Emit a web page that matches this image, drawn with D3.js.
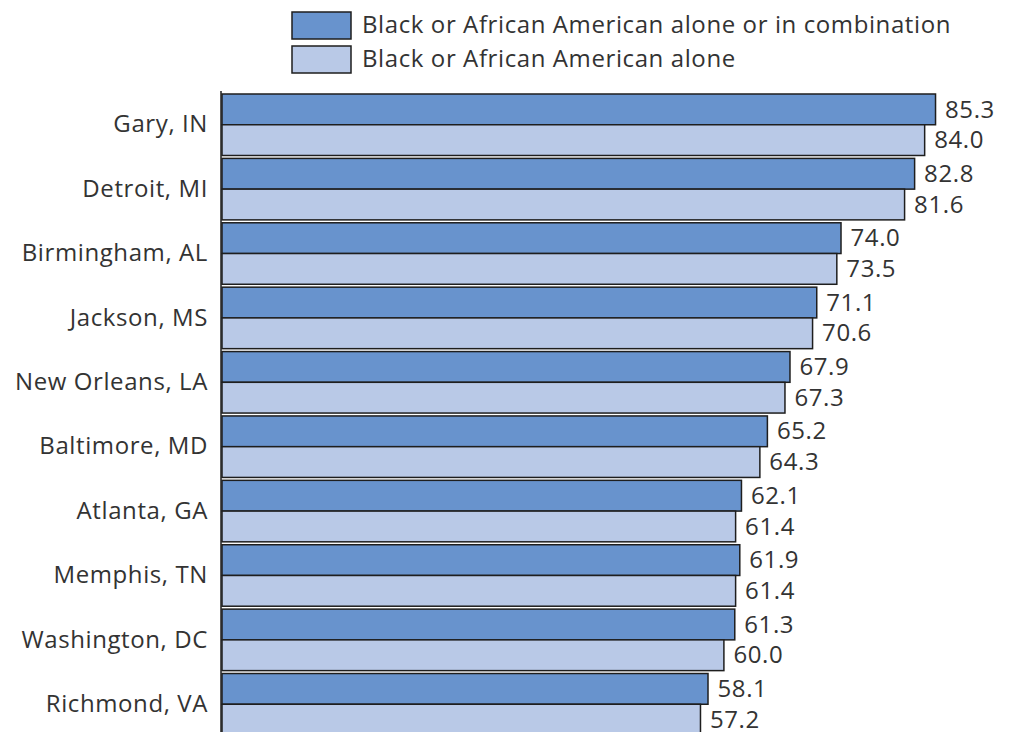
<!DOCTYPE html>
<html>
<head>
<meta charset="utf-8">
<script src="https://cdn.jsdelivr.net/npm/d3@7"></script>
<style>
  body { margin: 0; background: #fff; }
  text { font-family: "Open Sans", Lato, sans-serif; fill: #333; letter-spacing: 0.6px; }
</style>
</head>
<body>
<div id="main"></div>
<script>
// chart data
const cities = ['Gary, IN', 'Detroit, MI', 'Birmingham, AL', 'Jackson, MS', 'New Orleans, LA',
    'Baltimore, MD', 'Atlanta, GA', 'Memphis, TN', 'Washington, DC', 'Richmond, VA'];
const aloneOrCombo = [85.3, 82.8, 74.0, 71.1, 67.9, 65.2, 62.1, 61.9, 61.3, 58.1];
const aloneOnly = [84.0, 81.6, 73.5, 70.6, 67.3, 64.3, 61.4, 61.4, 60.0, 57.2];
const seriesNames = ['Black or African American alone or in combination', 'Black or African American alone'];
const seriesColors = ['#6893cd', '#b9c9e7'];

const svgWidth = 1016;
const svgHeight = 732;
const fontSize = 24;

const svg = d3.select('#main')
    .append('svg')
    .attr('width', svgWidth)
    .attr('height', svgHeight);

// x scale: bars start at the axis line
const xScale = d3.scaleLinear()
    .domain([0, 100])
    .range([222, 1058.5]);

// one band per city, sub band per series
const yScale = d3.scaleBand()
    .domain(cities)
    .range([94, 735])
    .paddingInner(0.045)
    .paddingOuter(0);

const ySub = d3.scaleBand()
    .domain([0, 1])
    .range([0, yScale.bandwidth()]);

const rows = cities.map((c, i) => ({ city: c, values: [aloneOrCombo[i], aloneOnly[i]] }));

const groups = svg.selectAll('g.city')
    .data(rows)
    .enter()
    .append('g')
    .attr('class', 'city')
    .attr('transform', (d) => `translate(0, ${yScale(d.city)})`);

groups.selectAll('rect')
    .data((d) => d.values)
    .enter()
    .append('rect')
    .attr('x', xScale(0))
    .attr('y', (d, i) => ySub(i))
    .attr('width', (d) => xScale(d) - xScale(0))
    .attr('height', ySub.bandwidth())
    .attr('fill', (d, i) => seriesColors[i])
    .attr('stroke', '#1e1e1e')
    .attr('stroke-width', 1.5);

// value labels
groups.selectAll('text.value')
    .data((d) => d.values)
    .enter()
    .append('text')
    .attr('class', 'value')
    .attr('x', (d) => xScale(d) + 9.5)
    .attr('y', (d, i) => ySub(i) + ySub.bandwidth() / 2)
    .attr('dy', '0.34em')
    .attr('font-size', fontSize)
    .text((d) => d.toFixed(1));

// city labels
groups.append('text')
    .attr('x', 208)
    .attr('y', yScale.bandwidth() / 2)
    .attr('dy', '0.32em')
    .attr('text-anchor', 'end')
    .attr('font-size', fontSize)
    .text((d) => d.city);

// axis line
svg.append('line')
    .attr('x1', xScale(0) - 1)
    .attr('x2', xScale(0) - 1)
    .attr('y1', 91)
    .attr('y2', svgHeight)
    .attr('stroke', '#1e1e1e')
    .attr('stroke-width', 1.5);

// legend
const legend = svg.selectAll('g.legend')
    .data(seriesNames)
    .enter()
    .append('g')
    .attr('class', 'legend')
    .attr('transform', (d, i) => `translate(292, ${12 + i * 34})`);

legend.append('rect')
    .attr('width', 59)
    .attr('height', 27)
    .attr('fill', (d, i) => seriesColors[i])
    .attr('stroke', '#1e1e1e')
    .attr('stroke-width', 1.5);

legend.append('text')
    .attr('x', 70)
    .attr('y', 13.5)
    .attr('dy', '0.3em')
    .attr('font-size', fontSize)
    .text((d) => d);
</script>
</body>
</html>
